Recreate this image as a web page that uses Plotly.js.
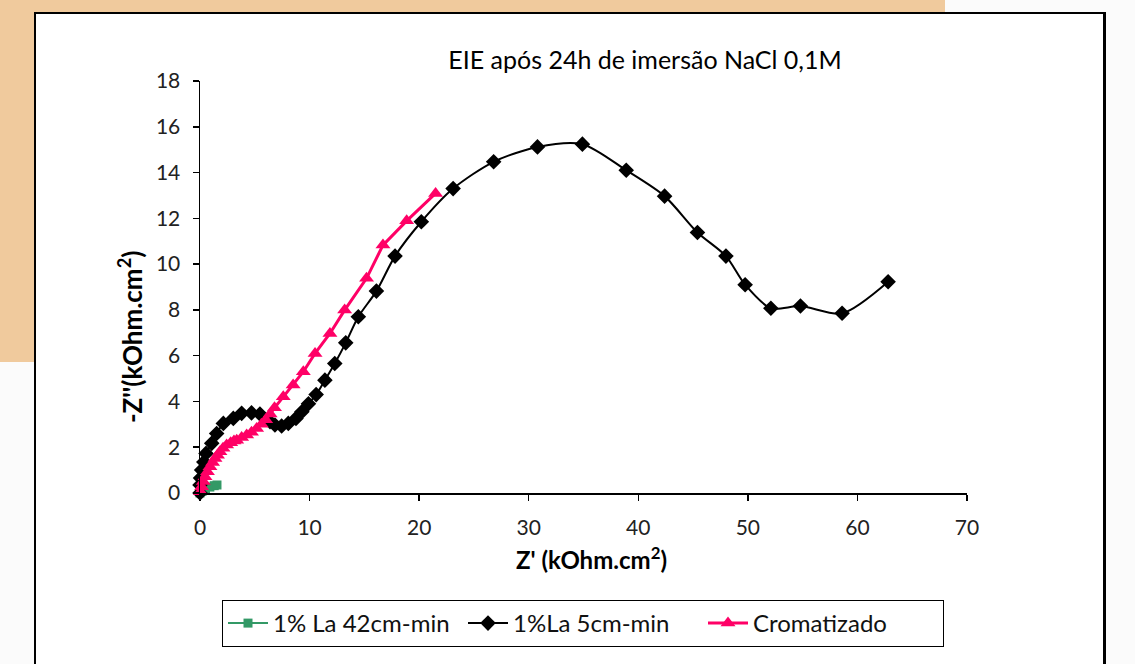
<!DOCTYPE html>
<html>
<head>
<meta charset="utf-8">
<script src="https://cdn.plot.ly/plotly-3.0.1.min.js"></script>
<style>
  html, body { margin:0; padding:0; width:1135px; height:664px; overflow:hidden; background:#fbfbfb; }
  .abs { position:absolute; }
</style>
</head>
<body>
<div class="abs" style="left:0;top:0;width:945px;height:14px;background:#F0CA9D;"></div>
<div class="abs" style="left:0;top:0;width:35px;height:362px;background:#F0CA9D;"></div>
<div class="abs" style="left:34px;top:12px;width:1067px;height:700px;background:#ffffff;border-left:2px solid #000;border-top:2px solid #000;border-right:3px solid #000;"></div>
<div id="plot" class="abs" style="left:0;top:0;width:1135px;height:664px;"></div>
<script>
// ---- data ----
const chartTitle = "EIE após 24h de imersão NaCl 0,1M";
const xTitle = "Z' (kOhm.cm<sup>2</sup>)";
const yTitle = "-Z''(kOhm.cm<sup>2</sup>)";
const seriesNames = ["1% La 42cm-min", "1%La 5cm-min", "Cromatizado"];

const greenX = [0, 0.2, 0.5, 0.9, 1.3, 1.55];
const greenY = [0, 0.08, 0.17, 0.26, 0.32, 0.35];

const blackX = [0, 0.0, 0.05, 0.15, 0.35, 0.55, 1.07, 1.52, 2.13, 3.04, 3.8, 4.7, 5.47, 6.39, 6.84, 7.45, 8.06, 8.76, 9.3, 9.9, 10.6, 11.4, 12.3, 13.3, 14.45, 16.1, 17.8, 20.2, 23.1, 26.8, 30.8, 34.9, 38.9, 42.4, 45.4, 48.0, 49.75, 52.1, 54.8, 58.6, 62.8];
const blackY = [0, 0.35, 0.65, 1.0, 1.35, 1.73, 2.17, 2.6, 3.04, 3.26, 3.48, 3.5, 3.45, 3.11, 2.97, 2.93, 3.04, 3.26, 3.55, 3.9, 4.3, 4.93, 5.66, 6.56, 7.7, 8.82, 10.35, 11.85, 13.3, 14.47, 15.12, 15.24, 14.1, 12.97, 11.38, 10.35, 9.1, 8.07, 8.17, 7.85, 9.23];

const pinkX = [0.05, 0.15, 0.3, 0.46, 0.68, 0.91, 1.15, 1.37, 1.6, 1.82, 2.1, 2.43, 2.8, 3.1, 3.35, 3.8, 4.26, 4.7, 5.17, 5.6, 6.0, 6.4, 6.8, 7.6, 8.5, 9.43, 10.5, 11.86, 13.2, 15.2, 16.7, 18.86, 21.5];
const pinkY = [0.05, 0.27, 0.5, 0.71, 0.93, 1.15, 1.33, 1.51, 1.65, 1.8, 1.95, 2.1, 2.2, 2.27, 2.31, 2.42, 2.53, 2.65, 2.82, 3.0, 3.2, 3.45, 3.72, 4.2, 4.72, 5.3, 6.1, 6.97, 7.99, 9.38, 10.83, 11.89, 13.09];

const xTicks = [0, 10, 20, 30, 40, 50, 60, 70];
const yTicks = [0, 2, 4, 6, 8, 10, 12, 14, 16, 18];

const FONT = "Lato, 'Noto Sans', sans-serif";

const traces = [
  { x: greenX, y: greenY, name: seriesNames[0], mode: "lines+markers",
    line: { color: "#339966", width: 2 },
    marker: { symbol: "square", size: 9, color: "#339966" }, cliponaxis: false },
  { x: blackX, y: blackY, name: seriesNames[1], mode: "lines+markers",
    line: { color: "#000000", width: 2, shape: "spline", smoothing: 0.8 },
    marker: { symbol: "diamond", size: 12, color: "#000000" }, cliponaxis: false },
  { x: pinkX, y: pinkY, name: seriesNames[2], mode: "lines+markers",
    line: { color: "#FF0066", width: 3 },
    marker: { symbol: "triangle-up", size: 13, color: "#FF0066" }, cliponaxis: false }
];

const layout = {
  width: 1135, height: 664,
  paper_bgcolor: "rgba(0,0,0,0)", plot_bgcolor: "rgba(0,0,0,0)",
  margin: { l: 200, r: 168, t: 81, b: 171, autoexpand: false },
  font: { family: FONT, color: "#222", size: 20 },
  title: { text: chartTitle, x: 645/1135, xref: "container", xanchor: "center",
           y: 1 - 60/664, yref: "container", yanchor: "middle",
           font: { family: FONT, size: 25, color: "#000" } },
  xaxis: { range: [0, 70], tickvals: xTicks, ticktext: xTicks.map(String),
           showgrid: false, zeroline: false, showline: true, linecolor: "#000", linewidth: 1.5,
           ticks: "outside", ticklen: 6, tickcolor: "#000", tickwidth: 1.5, ticklabelstandoff: 9,
           tickfont: { family: FONT, size: 21, color: "#222" } },
  yaxis: { range: [0, 18], tickvals: yTicks, ticktext: yTicks.map(String),
           showgrid: false, zeroline: false, showline: true, linecolor: "#000", linewidth: 1.5,
           ticks: "outside", ticklen: 6, tickcolor: "#000", tickwidth: 1.5, ticklabelstandoff: 8,
           tickfont: { family: FONT, size: 21, color: "#222" } },
  annotations: [
    { text: xTitle, xref: "paper", yref: "paper", x: (591-200)/767, y: (493-558)/412,
      showarrow: false, xanchor: "center", yanchor: "middle",
      font: { family: FONT, size: 24, color: "#000", weight: "bold" } },
    { text: yTitle, xref: "paper", yref: "paper", x: (130-200)/767, y: (493-337)/412,
      showarrow: false, xanchor: "center", yanchor: "middle", textangle: -90,
      font: { family: FONT, size: 26, color: "#000", weight: "bold" } }
  ],
  showlegend: true,
  legend: { orientation: "h", x: (222-200)/767, xanchor: "left", y: (493-600)/412, yanchor: "top",
            bordercolor: "#000", borderwidth: 1, bgcolor: "#fff",
            entrywidth: 185, entrywidthmode: "pixels", itemwidth: 40, tracegroupgap: 0,
            font: { family: FONT, size: 24, color: "#111" } }
};

Plotly.newPlot("plot", traces, layout, { displayModeBar: false, staticPlot: true });
</script>
</body>
</html>
